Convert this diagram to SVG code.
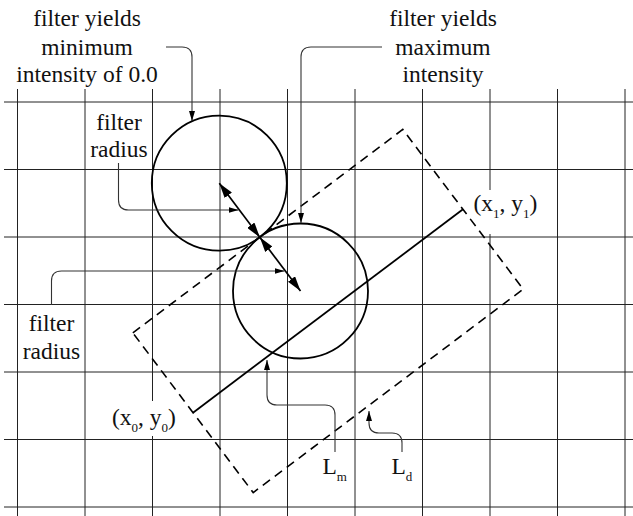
<svg xmlns="http://www.w3.org/2000/svg" width="633" height="516" viewBox="0 0 633 516">
<style>
text{font-family:"Liberation Serif","Times New Roman","DejaVu Serif",serif;font-size:23.5px;fill:#111}
.sub{font-size:13px}
.grid line{stroke:#222;stroke-width:1}
.shape{fill:none;stroke:#000;stroke-width:1.8}
.dash{fill:none;stroke:#000;stroke-width:1.6;stroke-dasharray:9 6}
.leader{fill:none;stroke:#333;stroke-width:1.1;marker-end:url(#small)}
.radius{stroke:#000;stroke-width:1.7;marker-start:url(#big);marker-end:url(#big)}
.bg{fill:#fff}
</style>
<defs>
<marker id="big" viewBox="0 0 15 9" refX="15" refY="4.5" markerWidth="15" markerHeight="9" markerUnits="userSpaceOnUse" orient="auto-start-reverse"><path d="M0,0 L15,4.5 L0,9 z" fill="#000"/></marker>
<marker id="small" viewBox="0 0 10 6" refX="10" refY="3" markerWidth="10" markerHeight="6" markerUnits="userSpaceOnUse" orient="auto"><path d="M0,0 L10,3 L0,6 z" fill="#000"/></marker>
</defs>
<rect width="633" height="516" fill="#fff"/>
<g id="grid" class="grid">
<line x1="17.5" y1="89" x2="17.5" y2="516"/>
<line x1="85" y1="89" x2="85" y2="516"/>
<line x1="152.5" y1="89" x2="152.5" y2="516"/>
<line x1="220" y1="89" x2="220" y2="516"/>
<line x1="287.5" y1="89" x2="287.5" y2="516"/>
<line x1="355" y1="89" x2="355" y2="516"/>
<line x1="422.5" y1="89" x2="422.5" y2="516"/>
<line x1="490" y1="89" x2="490" y2="516"/>
<line x1="557.5" y1="89" x2="557.5" y2="516"/>
<line x1="625" y1="89" x2="625" y2="516"/>
<line x1="4" y1="102" x2="633" y2="102"/>
<line x1="4" y1="169.5" x2="633" y2="169.5"/>
<line x1="4" y1="237" x2="633" y2="237"/>
<line x1="4" y1="304.5" x2="633" y2="304.5"/>
<line x1="4" y1="372" x2="633" y2="372"/>
<line x1="4" y1="439.5" x2="633" y2="439.5"/>
<line x1="4" y1="507" x2="633" y2="507"/>
</g>
<g id="label-x0y0">
<rect class="bg" x="110" y="401" width="71" height="35"/>
<text x="112" y="425">(x<tspan class="sub" dy="7">0</tspan><tspan dy="-7">, y</tspan><tspan class="sub" dy="7">0</tspan><tspan dy="-7">)</tspan></text>
</g>
<g id="label-x1y1">
<rect class="bg" x="472" y="190" width="70" height="44"/>
<text x="473.5" y="211">(x<tspan class="sub" dy="7">1</tspan><tspan dy="-7">, y</tspan><tspan class="sub" dy="7">1</tspan><tspan dy="-7">)</tspan></text>
</g>
<g id="region-Ld">
<rect class="dash" x="-169" y="-100" width="338" height="200" transform="translate(328,311) rotate(-37)"/>
</g>
<g id="line-Lm">
<line class="shape" x1="193" y1="412.7" x2="463" y2="209.3"/>
</g>
<g id="filter-min">
<circle class="shape" cx="219.3" cy="183.2" r="67.5"/>
</g>
<g id="filter-max">
<circle class="shape" cx="300.5" cy="291" r="67.5"/>
</g>
<g id="label-min">
<text x="87" y="26" text-anchor="middle">filter yields</text>
<text x="87" y="54.5" text-anchor="middle">minimum</text>
<text x="87" y="82" text-anchor="middle">intensity of 0.0</text>
</g>
<g id="label-max">
<text x="443" y="26" text-anchor="middle">filter yields</text>
<text x="443" y="54.5" text-anchor="middle">maximum</text>
<text x="443" y="82" text-anchor="middle">intensity</text>
</g>
<g id="label-radius-1">
<text x="119" y="130" text-anchor="middle">filter</text>
<text x="119" y="157" text-anchor="middle">radius</text>
</g>
<g id="label-radius-2">
<text x="51.5" y="331" text-anchor="middle">filter</text>
<text x="51.5" y="359" text-anchor="middle">radius</text>
</g>
<g id="label-Lm">
<text x="322.5" y="474">L<tspan class="sub" dy="7">m</tspan></text>
</g>
<g id="label-Ld">
<text x="391.5" y="474">L<tspan class="sub" dy="7">d</tspan></text>
</g>
<g id="connectors">
<line class="radius" x1="219.3" y1="183.2" x2="259.8" y2="237.2"/>
<line class="radius" x1="259.8" y1="237.2" x2="300.5" y2="291"/>
<path class="leader" d="M166,47 H182 Q192,47 192,57 V121"/>
<path class="leader" d="M382,47 H311 Q301,47 301,57 V223"/>
<path class="leader" d="M118.5,163 V200 Q118.5,210 128.5,210 H238.5"/>
<path class="leader" d="M51.5,305 V281 Q51.5,271 61.5,271 H284.5"/>
<path class="leader" d="M335,452 V415 Q335,405 325,405 H277 Q267,405 267,395 V360"/>
<path class="leader" d="M402,452 V443 Q402,433 392,433 H379 Q369,433 369,423 V411"/>
</g>
</svg>
